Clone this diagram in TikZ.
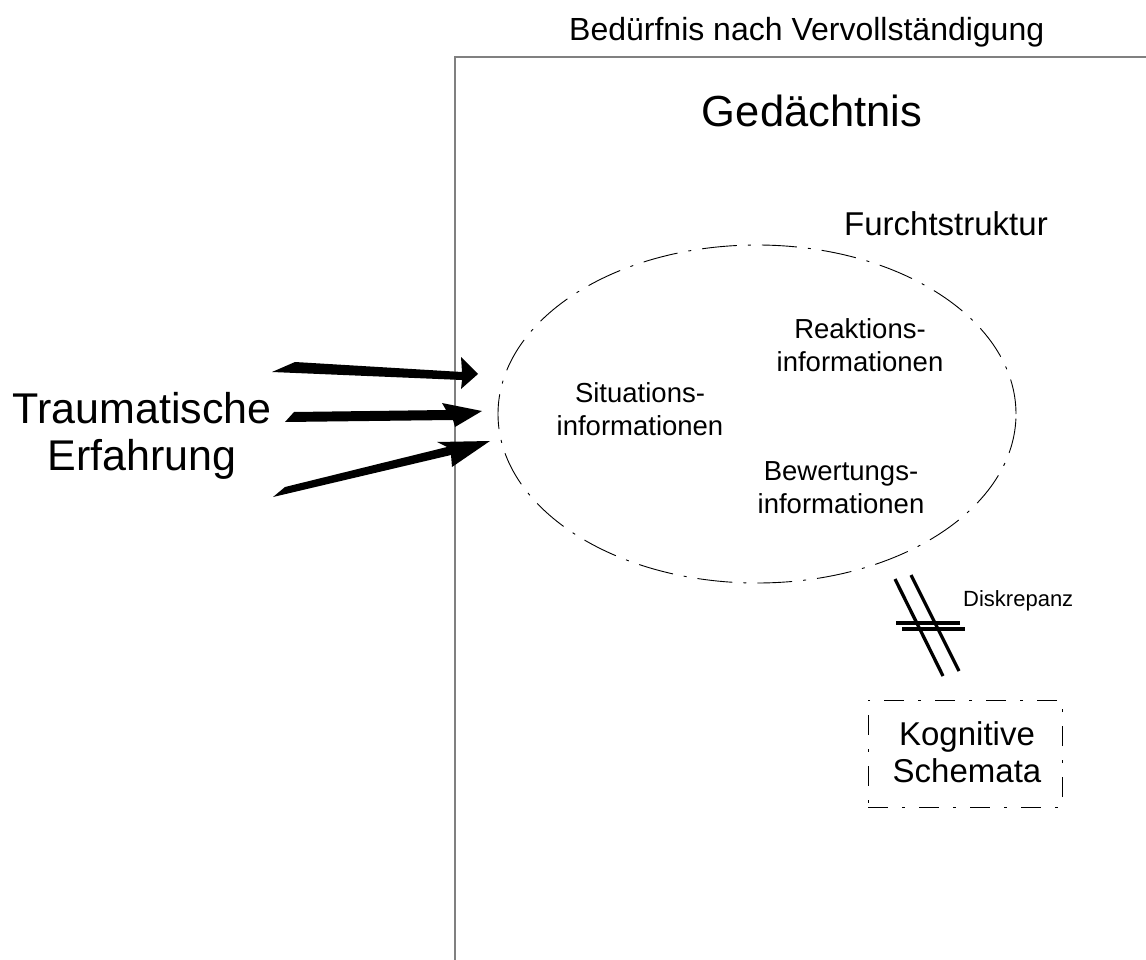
\documentclass[tikz,border=0pt]{standalone}
\usepackage{fontspec}
\setmainfont{Liberation Sans}
\usetikzlibrary{shapes.geometric}
\begin{document}
\begin{tikzpicture}[x=1pt,y=-1pt,
  frameline/.style={draw=black!50, line width=1.6pt},
  dashdot/.style={draw=black, line width=0.9pt, dash pattern=on 35pt off 11pt on 3pt off 11pt},
  boxdash/.style={draw=black, line width=0.9pt, dash pattern=on 20pt off 14pt on 3pt off 14pt},
  lbl/.style={inner sep=0pt, align=center},
  bigarrow/.style={fill=black},
  strike/.style={draw=black, line width=3.3pt}]
\useasboundingbox (0,0) rectangle (1146,960);

% frame (Gedaechtnis)
\coordinate (fbl) at (455,960);
\coordinate (ftl) at (455,57);
\coordinate (ftr) at (1146,57);
\draw[frameline] (fbl) -- (ftl) -- (ftr);

\node[lbl, anchor=base west, font=\fontsize{32}{37}\selectfont] (need) at (569,41) {Bedürfnis nach Vervollständigung};
\node[lbl, anchor=base, font=\fontsize{43.5}{50}\selectfont] (mem) at (812,127) {Gedächtnis};
\node[lbl, anchor=base west, font=\fontsize{33}{38}\selectfont] (fear) at (844,236) {Furchtstruktur};

% fear structure ellipse
\node[dashdot, ellipse, inner sep=0pt, minimum width=518pt, minimum height=338pt] (fs) at (757,414) {};

\node[lbl, font=\fontsize{27.5}{33}\selectfont] (sit) at (640,409) {Situations-\\informationen};
\node[lbl, font=\fontsize{27.5}{33}\selectfont] (rea) at (860,345) {Reaktions-\\informationen};
\node[lbl, font=\fontsize{27.5}{33}\selectfont] (bew) at (841,488) {Bewertungs-\\informationen};

% trauma
\node[lbl, font=\fontsize{43}{47}\selectfont] (te) at (142,436) {Traumatische\\Erfahrung};

\fill[bigarrow] (272,372) -- (295,362) -- (462,372) -- (461,357) -- (478,374) -- (461,389) -- (462,380) -- cycle;
\fill[bigarrow] (285,422) -- (294,412) -- (446,410) -- (442,403) -- (482,411) -- (455,427) -- (453,420) -- cycle;
\fill[bigarrow] (273,497) -- (285,487) -- (447,447) -- (437,442) -- (490,441) -- (452,467) -- (451,455) -- cycle;

% cognitive schemata
\node[boxdash, rectangle, inner sep=0pt, minimum width=194pt, minimum height=107pt] (ks) at (965,753.5) {};
\node[lbl, font=\fontsize{33}{37}\selectfont] (kst) at (967,752) {Kognitive\\Schemata};

% discrepancy sign
\coordinate (d1a) at (895,579); \coordinate (d1b) at (943,676);
\coordinate (d2a) at (911,575); \coordinate (d2b) at (959,671);
\coordinate (h1a) at (896,623); \coordinate (h1b) at (960,623);
\coordinate (h2a) at (902,629); \coordinate (h2b) at (965,629);
\draw[strike] (d1a) -- (d1b);
\draw[strike] (d2a) -- (d2b);
\draw[strike] (h1a) -- (h1b);
\draw[strike] (h2a) -- (h2b);
\node[lbl, anchor=base west, font=\fontsize{22}{26}\selectfont] (disk) at (963,606) {Diskrepanz};
\end{tikzpicture}
\end{document}
